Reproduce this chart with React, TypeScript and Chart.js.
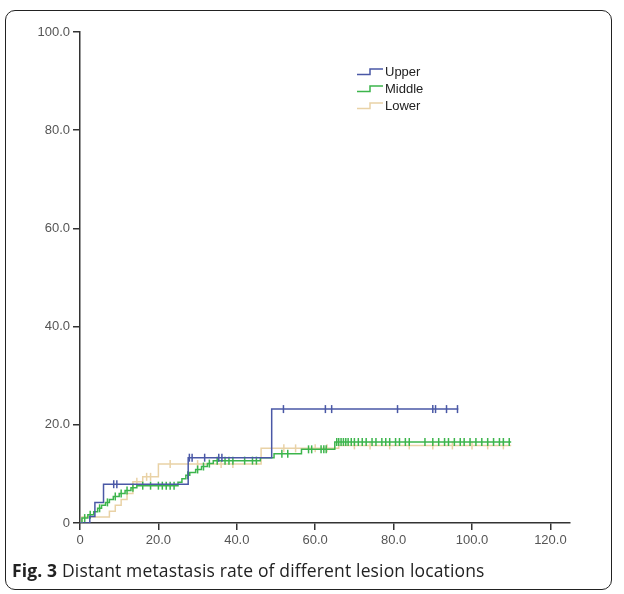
import { useEffect, useRef } from "react";
import { Chart, registerables } from "chart.js";

Chart.register(...registerables);

// ---- data ----
const seriesNames = ["Upper", "Middle", "Lower"];
const seriesColors = ["#4a58a6", "#3cb54c", "#e9d2a6"];

const upperTimes = [0, 2.5, 3.8, 6, 27.6, 48.9, 96.5];
const upperRates = [0, 1.3, 4.2, 7.9, 13.3, 23.2, 23.2];
const upperCensored = [8.6, 9.4, 27.9, 28.6, 31.8, 35.4, 36.2, 51.9, 62.6, 64.2, 81, 90, 90.7, 93.5, 96.3];

const middleTimes = [0, 0.5, 2, 3.5, 4.5, 5.5, 6.5, 7.5, 8.5, 10, 11.5, 13, 14.5, 25, 26, 27, 28, 29.5, 31, 32.5, 34, 46, 49.5, 56.5, 65, 110];
const middleRates = [0, 1.0, 1.7, 2.3, 3.0, 3.6, 4.2, 4.8, 5.4, 6.0, 6.6, 7.2, 7.6, 8.3, 9.0, 9.7, 10.3, 10.9, 11.5, 12.1, 12.7, 13.3, 14.1, 15.0, 16.5, 16.5];
const middleCensored = [1.2, 2.6, 5, 7, 9, 10.5, 12, 13.5, 16, 18, 20, 21, 22, 23, 24, 27.5, 30, 31.5, 33, 35, 37, 38, 39, 42, 44, 45, 51.5, 53, 58.3, 59.1, 61.5, 62.2, 62.8, 65.5, 66, 66.6, 67.2, 67.8, 68.4, 69.2, 70, 71, 72, 73, 74.5, 75.5, 77, 78, 79, 80.5, 81.5, 83, 84, 88, 90, 91.5, 93, 94, 95.5, 97, 98, 99.5, 101, 102.5, 104, 105.5, 107, 108, 109.5];

const lowerTimes = [0, 0.5, 7.5, 9, 10.5, 12, 13.5, 16, 20, 46.2, 66, 110];
const lowerRates = [0, 1.2, 2.4, 3.6, 4.8, 6.0, 8.4, 9.4, 12.0, 15.2, 15.8, 15.8];
const lowerCensored = [14.5, 17, 18, 23, 30, 36, 39, 52, 55, 60, 63, 70, 74, 79, 84, 90, 95, 100, 104, 108];

const xTicks = [0, 20, 40, 60, 80, 100, 120];
const yTicks = [0, 20, 40, 60, 80, 100];
const xMin = 0;
const xMax = 125;
const yMin = 0;
const yMax = 100;

const captionBold = "Fig. 3";
const captionText = " Distant metastasis rate of different lesion locations";

function rateAt(times: number[], rates: number[], t: number) {
  let v = rates[0];
  for (let i = 0; i < times.length; i++) {
    if (times[i] <= t) v = rates[i];
  }
  return v;
}

const tickLabel = (v: number) => (v === 0 ? "0" : v.toFixed(1));

export default function App() {
  const ref = useRef<HTMLCanvasElement | null>(null);

  useEffect(() => {
    if (!ref.current) return;
    const all = [
      [upperTimes, upperRates, upperCensored],
      [middleTimes, middleRates, middleCensored],
      [lowerTimes, lowerRates, lowerCensored],
    ];
    const datasets: any[] = [];
    all.forEach(([times, rates, cens], i) => {
      datasets.push({
        type: "line",
        label: seriesNames[i],
        isCurve: true,
        data: times.map((t, j) => ({ x: t, y: rates[j] })),
        borderColor: seriesColors[i],
        borderWidth: 1.5,
        stepped: true,
        pointRadius: 0,
        fill: false,
      });
      datasets.push({
        type: "line",
        label: seriesNames[i] + " censored",
        isCurve: false,
        data: cens.map((t) => ({ x: t, y: rateAt(times, rates, t) })),
        showLine: false,
        pointStyle: "line",
        rotation: 90,
        pointRadius: 4,
        pointBorderWidth: 1.5,
        borderColor: seriesColors[i],
        pointBorderColor: seriesColors[i],
      });
    });

    const legendPlugin = {
      id: "stepLegend",
      afterDraw(chart: any) {
        const ctx = chart.ctx;
        const curves = chart.data.datasets.filter((d: any) => d.isCurve);
        ctx.save();
        curves.forEach((d: any, i: number) => {
          const cy = 72 + i * 17;
          const x0 = 357;
          ctx.strokeStyle = d.borderColor;
          ctx.lineWidth = 1.5;
          ctx.beginPath();
          ctx.moveTo(x0, cy + 2.5);
          ctx.lineTo(x0 + 13, cy + 2.5);
          ctx.lineTo(x0 + 13, cy - 3);
          ctx.lineTo(x0 + 26, cy - 3);
          ctx.stroke();
          ctx.fillStyle = "#222";
          ctx.font = "13px 'Liberation Sans', Arial, sans-serif";
          ctx.textAlign = "left";
          ctx.textBaseline = "middle";
          ctx.fillText(d.label, x0 + 28, cy);
        });
        ctx.restore();
      },
    };

    const font = { family: "'Liberation Sans', Arial, sans-serif", size: 13 };

    const chart = new Chart(ref.current, {
      type: "line",
      data: { datasets },
      options: {
        animation: false,
        responsive: false,
        maintainAspectRatio: false,
        layout: { padding: { left: 0, top: 32, right: 54, bottom: 0 } },
        plugins: { legend: { display: false }, tooltip: { enabled: false } },
        scales: {
          x: {
            type: "linear",
            min: xMin,
            max: xMax,
            afterBuildTicks: (s: any) => {
              s.ticks = xTicks.map((v) => ({ value: v }));
            },
            afterFit: (s: any) => {
              s.height = 37;
            },
            ticks: {
              callback: (v: any) => tickLabel(Number(v)),
              font,
              color: "#555",
              padding: 3,
              maxRotation: 0,
              autoSkip: false,
            },
            grid: { drawOnChartArea: false, drawTicks: true, tickLength: 7, color: "#333", lineWidth: 1.5 },
            border: { color: "#333", width: 1.5 },
          },
          y: {
            type: "linear",
            min: yMin,
            max: yMax,
            afterBuildTicks: (s: any) => {
              s.ticks = yTicks.map((v) => ({ value: v }));
            },
            afterFit: (s: any) => {
              s.width = 80;
            },
            ticks: {
              callback: (v: any) => tickLabel(Number(v)),
              font,
              color: "#555",
              padding: 3,
              autoSkip: false,
            },
            grid: { drawOnChartArea: false, drawTicks: true, tickLength: 7, color: "#333", lineWidth: 1.5 },
            border: { color: "#333", width: 1.5 },
          },
        },
      },
      plugins: [legendPlugin],
    } as any);
    return () => chart.destroy();
  }, []);

  return (
    <div style={{ position: "fixed", left: 0, top: 0, width: 624, height: 594, background: "#fff", overflow: "hidden" }}>
      <div
        style={{
          position: "absolute",
          left: 5,
          top: 10,
          width: 607,
          height: 580,
          border: "1.5px solid #222",
          borderRadius: 10,
          boxSizing: "border-box",
        }}
      />
      <canvas ref={ref} width={624} height={560} style={{ position: "absolute", left: 0, top: 0, width: 624, height: 560 }} />
      <div
        style={{
          position: "absolute",
          left: 12,
          top: 558,
          fontFamily: "'Open Sans', sans-serif",
          fontSize: 17.5,
          letterSpacing: 0.15,
          color: "#222",
          whiteSpace: "nowrap",
        }}
      >
        <b>{captionBold}</b>
        {captionText}
      </div>
    </div>
  );
}
